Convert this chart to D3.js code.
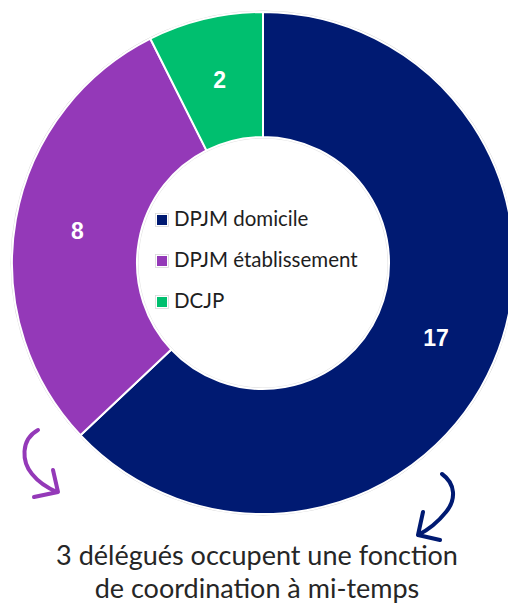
<!DOCTYPE html>
<html>
<head>
<meta charset="utf-8">
<script src="https://cdn.jsdelivr.net/npm/d3@7"></script>
<style>
  body { margin: 0; background: #fff; }
  svg { display: block; }
</style>
</head>
<body>
<svg></svg>
<script>
'use strict';
// data
var categories = ['DPJM domicile', 'DPJM établissement', 'DCJP'];
var values = [17, 8, 2];
var colors = ['#001a72', '#9439b8', '#00bf6f'];
var caption = ['3 délégués occupent une fonction', 'de coordination à mi-temps'];

var canvasWidth = 508;
var canvasHeight = 603;
var cx = 263, cy = 263;
var outerR = 251, innerR = 126;

var svg = d3.select('svg')
  .attr('width', canvasWidth)
  .attr('height', canvasHeight);

var color = d3.scaleOrdinal()
  .domain(categories)
  .range(colors);

var pie = d3.pie()
  .sort(null)
  .value(function(d) { return d.value; });

var arc = d3.arc()
  .innerRadius(innerR)
  .outerRadius(outerR);

var data = categories.map(function(c, i) { return {name: c, value: values[i]}; });

var g = svg.append('g')
  .attr('transform', 'translate(' + cx + ',' + cy + ')');

// faint grey rim round the ring
g.append('circle').attr('r', outerR + 1).attr('fill', 'none').attr('stroke', '#d6d6d6').attr('stroke-width', 1);
g.append('circle').attr('r', innerR - 1).attr('fill', 'none').attr('stroke', '#e2e2e2').attr('stroke-width', 1);

var slices = g.selectAll('.slice')
  .data(pie(data))
  .enter()
  .append('g')
  .attr('class', 'slice');

slices.append('path')
  .attr('d', arc)
  .attr('fill', function(d) { return color(d.data.name); })
  .attr('stroke', '#fff')
  .attr('stroke-width', 2);

slices.append('text')
  .attr('transform', function(d) { return 'translate(' + arc.centroid(d) + ')'; })
  .attr('text-anchor', 'middle')
  .attr('dy', '0.36em')
  .style('font-family', '"Liberation Sans", Arial, sans-serif')
  .style('font-weight', 'bold')
  .style('font-size', '23px')
  .attr('fill', '#fff')
  .text(function(d) { return d.data.value; });

// legend in the hole
var legend = svg.append('g')
  .selectAll('g')
  .data(categories)
  .enter()
  .append('g')
  .attr('transform', function(d, i) {
    return 'translate(157,' + (226 + i * 41) + ')';
  });

legend.append('rect')
  .attr('x', -1.5)
  .attr('y', -12.5)
  .attr('width', 13)
  .attr('height', 13)
  .attr('fill', '#fff')
  .attr('stroke', '#d9d9d9')
  .attr('stroke-width', 0.8);

legend.append('rect')
  .attr('x', 0)
  .attr('y', -11)
  .attr('width', 10)
  .attr('height', 10)
  .attr('fill', color);

legend.append('text')
  .attr('x', 17)
  .attr('y', 0)
  .style('font-family', 'Lato, sans-serif')
  .style('font-size', '20.5px')
  .attr('fill', '#1e1e1e')
  .text(function(d) { return d; });

// hand drawn arrows
var arrows = svg.append('g')
  .attr('fill', 'none')
  .attr('stroke-width', 4)
  .attr('stroke-linecap', 'round')
  .attr('stroke-linejoin', 'round');

arrows.append('path')
  .attr('stroke', colors[1])
  .attr('d', 'M38,430 C20,440 22,462 32,474 C40,484 50,489 57,492 M53,470 L58,492 L34,497');

arrows.append('path')
  .attr('stroke', colors[0])
  .attr('d', 'M442,474 C456,484 456,500 446,512 C438,522 428,530 418,535 M423,512 L418,535 L440,540');

// caption
svg.append('g')
  .selectAll('text')
  .data(caption)
  .enter()
  .append('text')
  .attr('x', 257)
  .attr('y', function(d, i) { return 565 + i * 33; })
  .attr('text-anchor', 'middle')
  .style('font-family', 'Lato, sans-serif')
  .style('font-size', '27px')
  .attr('fill', '#262626')
  .text(function(d) { return d; });
</script>
</body>
</html>
